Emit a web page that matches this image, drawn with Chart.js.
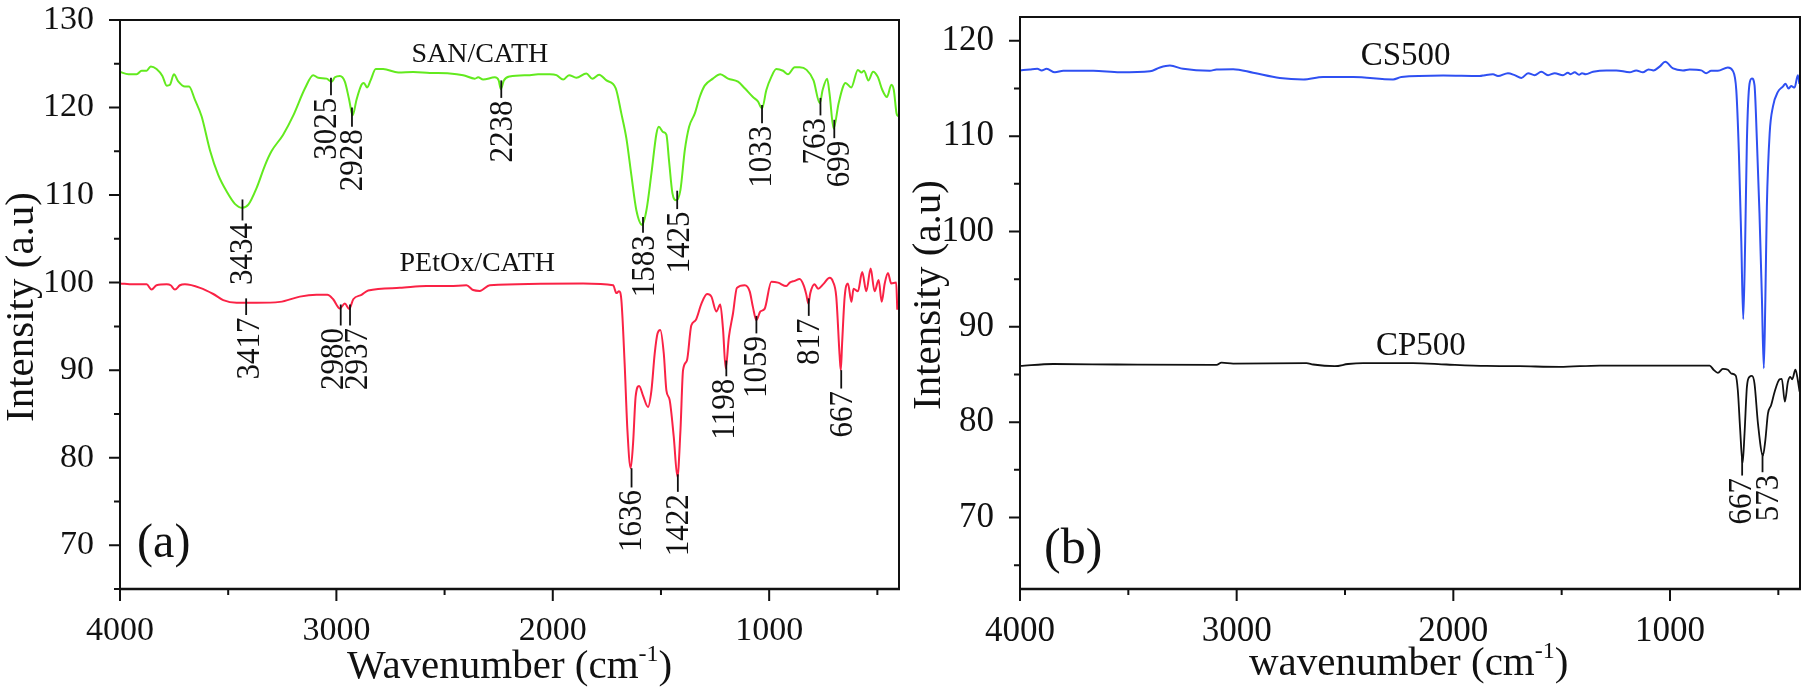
<!DOCTYPE html>
<html>
<head>
<meta charset="utf-8">
<title>FTIR spectra</title>
<script src="https://cdn.jsdelivr.net/npm/chart.js@4"></script>
<style>
    html, body { margin: 0; padding: 0; background: #fff; }
    canvas { position: absolute; left: 0; top: 0; }
</style>
</head>
<body>
<canvas id="panelA" width="1806" height="690"></canvas>
<canvas id="panelB" width="1806" height="690"></canvas>
<script>
// Panel (a)
const sanWave = [4000,3961,3923,3900,3877,3858,3831,3804,3784,3769,3751,3731,3700,3681,3654,3623,3584,3546,3507,3469,3435,3407,3369,3330,3300,3246,3199,3145,3107,3084,3045,3022,3007,2984,2961,2941,2925,2907,2884,2873,2858,2842,2818,2784,2714,2645,2568,2476,2414,2360,2345,2322,2268,2250,2240,2226,2199,2106,2068,2014,1983,1952,1925,1891,1845,1817,1786,1752,1709,1683,1660,1637,1614,1587,1567,1544,1521,1510,1490,1475,1463,1447,1429,1410,1390,1370,1344,1321,1298,1260,1226,1190,1144,1113,1075,1052,1033,1013,990,967,936,913,882,859,827,795,766,753,732,721,702,679,647,621,590,573,562,541,520,498,477,456,435,424,411,403];
const sanVal = [124.06,123.8,123.8,124.2,124.2,124.7,124.4,123.6,122.5,122.6,123.8,123,122.4,122.4,120.9,119,115.1,112.3,110.4,109,108.55,108.9,110.8,113.4,115,116.9,119.1,122.2,123.7,123.4,123.3,122.95,123.45,123.6,122.95,120.9,119.1,120.9,122.6,122.8,122.3,123.1,124.4,124.4,124,124.05,123.95,123.9,123.7,123.3,123.45,123.2,123.45,123.1,122.1,123.1,123.55,123.7,123.8,123.8,123.7,123.2,123.7,123.4,123.9,123.3,123.75,123.1,122.2,119.3,116.5,112.3,108.3,106.6,108.3,112.5,117,117.8,117.2,116.9,114,110.2,109.4,110.6,115.1,117.8,119.3,121.2,122.5,123.3,123.8,123.3,122.95,122.2,121.2,120.7,119.9,122,123.5,124.4,124.2,123.8,124.6,124.6,124.3,123.1,120.5,122,123.3,121.6,117.6,120.5,122.8,122.3,124.3,124,124.2,123.1,124.1,123.5,122,121.2,122.6,122,119.3,119];

const petWave = [4000,3938,3877,3854,3831,3784,3766,3746,3723,3700,3630,3569,3523,3461,3369,3261,3169,3092,3042,3015,2984,2961,2941,2922,2884,2853,2707,2584,2476,2399,2368,2337,2291,1860,1721,1706,1694,1683,1668,1655,1640,1629,1617,1601,1583,1560,1544,1529,1516,1503,1487,1475,1460,1441,1424,1410,1398,1380,1360,1340,1313,1287,1267,1244,1226,1213,1201,1186,1167,1149,1113,1090,1075,1059,1041,1021,990,959,921,905,882,859,841,828,819,810,790,774,751,720,705,690,674,669,663,651,636,620,610,590,570,551,531,513,494,480,466,451,436,413,408];
const petVal = [99.9,99.8,99.8,99.2,99.7,99.8,99.7,99.2,99.7,99.8,99.4,98.7,98,97.7,97.7,97.8,98.4,98.6,98.6,98.1,97.05,97.6,97,98.1,98.6,99.1,99.4,99.6,99.6,99.7,99.15,99.05,99.7,99.9,99.7,98.8,99,98,90.8,83.1,78.8,81.6,87,88.2,87.1,85.8,87.7,91.9,94.2,94.6,91.9,87.7,86.6,82.4,77.8,83.1,90,91.1,95.1,95.7,97.6,98.7,98.4,96.7,97.5,94.6,90.2,93.8,96.5,99.4,99.7,99,97.2,95.7,96.7,97,100.1,100,99.6,100,100.2,100.4,99.7,98.6,97.6,98.8,99.8,99.3,99.8,100.55,100.1,98.4,91.5,90,93,98.4,99.9,97.8,99.3,99,101.2,99,101.6,99,100.3,97.8,99.9,101.1,99.9,100,96.9];

const peakWaveA = [3434,3417,3025,2980,2937,2928,2238,1636,1583,1425,1422,1198,1059,1033,817,763,699,667];
const peakTopA = [109.5,98.2,123.4,97.5,97.5,120,123.1,78.8,107.5,110.5,78.1,91.1,96.2,120.3,98.2,121.1,118.6,90];
const peakEndA = [107.1,96.3,121.4,95.1,95.1,117.8,121.1,76.6,105.7,108.4,76.1,89.3,94.2,118.2,96.2,119.1,116.5,87.9];
const peakTextWaveA = [3446,3410,3058,3025,2915,2938,2245,1646,1585,1427,1429,1215,1067,1044,823,796,684,674];

// Panel (b)
const csWave = [4000,3954,3920,3900,3877,3839,3800,3662,3539,3400,3354,3308,3247,3124,3093,3016,2924,2801,2693,2601,2462,2278,2240,2047,1878,1855,1817,1794,1748,1717,1686,1655,1625,1594,1563,1532,1494,1471,1459,1440,1420,1406,1389,1355,1294,1248,1186,1156,1125,1099,1076,1048,1022,986,940,910,856,833,810,779,733,710,694,682,671,662,653,645,633,622,610,599,587,576,567,560,553,540,525,502,479,467,453,441,425,410,403];
const csVal = [116.9,117,117.06,116.9,117.06,116.7,116.85,116.85,116.7,116.8,117.2,117.4,117.06,116.85,117,117.03,116.65,116.1,115.95,116.2,116.2,115.95,116.2,116.36,116.3,116.4,116.5,116.3,116.6,116.4,116.1,116.6,116.4,116.75,116.4,116.6,116.4,116.65,116.5,116.7,116.45,116.6,116.5,116.75,116.9,116.9,116.7,116.9,116.7,117,116.9,117.3,117.8,117.1,116.9,117,116.9,116.6,116.85,116.85,117.2,116.85,114.8,108.2,99,90.8,99,109.6,115.5,116.05,115.35,109.6,101.9,93.15,85.65,92.8,102.6,110.3,113.1,114.65,115.2,115.5,115,115.25,115.1,116.4,115.5];

const cpWave = [4000,3846,3554,3093,3070,3016,2678,2647,2547,2486,2416,2186,2032,1847,1694,1509,1325,817,799,779,756,733,717,697,687,676,665,656,645,633,622,610,594,571,560,548,533,517,494,484,470,456,445,436,421,410,402];
const cpVal = [85.9,86.1,86.05,86,86.25,86.15,86.2,86.05,85.87,86.1,86.2,86.2,86.05,85.9,85.87,85.8,85.94,85.94,85.5,85.17,85.6,85.5,85.1,84.9,83.35,79.15,75.7,78.8,83.7,84.75,84.85,84.05,79.85,76.5,78.1,80.9,81.8,83.2,84.5,84.55,82.15,84.2,84.75,84.5,85.5,84.4,83.2];

const peakWaveB = [667,573];
const peakTopB = [76.3,76.75];
const peakEndB = [74.4,74.75];
const peakTextWaveB = [679,556];

// Axis ticks
const xTicks = [4000,3500,3000,2500,2000,1500,1000,500];
const yTicksA = [130,125,120,115,110,105,100,95,90,85,80,75,70,65];
const yTicksB = [120,115,110,105,100,95,90,85,80,75,70,65];

const SERIF = '"Liberation Serif", "Times New Roman", serif';

function toPoints(xs, ys) {
    return xs.map((x, i) => ({ x: x, y: ys[i] }));
}

function putText(ctx, text, x, y, size, align) {
    ctx.font = size + 'px ' + SERIF;
    ctx.textAlign = align || 'left';
    ctx.textBaseline = 'alphabetic';
    ctx.fillText(text, x, y);
}

// Upright text turned to read bottom to top, baseline on x
function putTurned(ctx, text, x, y, size, align, thick) {
    ctx.save();
    ctx.translate(x, y);
    ctx.rotate(-Math.PI / 2);
    ctx.scale(1, thick || 1);
    putText(ctx, text, 0, 0, size, align);
    ctx.restore();
}

// Ticks, box, peak labels and captions for one panel
function panelPlugin(cfg) {
    return {
        id: 'panelMarks',
        afterDatasetsDraw(chart) {
            const ctx = chart.ctx;
            const area = chart.chartArea;
            const sx = chart.scales.x;
            const sy = chart.scales.y;
            ctx.save();
            ctx.strokeStyle = '#111';
            ctx.fillStyle = '#111';

            // box
            ctx.lineWidth = 2;
            ctx.strokeRect(area.left, area.top, area.right - area.left, area.bottom - area.top);
            ctx.lineWidth = 2.6;
            ctx.beginPath();
            ctx.moveTo(area.left - 1, area.bottom);
            ctx.lineTo(area.right + 1, area.bottom);
            ctx.stroke();

            // major and minor ticks
            ctx.lineWidth = 2;
            ctx.beginPath();
            xTicks.forEach(v => {
                const px = sx.getPixelForValue(v);
                ctx.moveTo(px, area.bottom);
                ctx.lineTo(px, area.bottom + (v % 1000 === 0 ? 12 : 6));
            });
            cfg.yTicks.forEach(v => {
                const py = sy.getPixelForValue(v);
                ctx.moveTo(area.left, py);
                ctx.lineTo(area.left - (v % 10 === 0 ? 11 : 6), py);
            });
            ctx.stroke();

            // peak leaders with their wavenumbers
            cfg.peakWave.forEach((w, i) => {
                const px = sx.getPixelForValue(w);
                const end = sy.getPixelForValue(cfg.peakEnd[i]);
                ctx.lineWidth = 1.8;
                ctx.beginPath();
                ctx.moveTo(px, sy.getPixelForValue(cfg.peakTop[i]));
                ctx.lineTo(px, end);
                ctx.stroke();
                const textX = sx.getPixelForValue(cfg.peakTextWave[i]) + 11.8;
                putTurned(ctx, String(w), textX, end + 2.5, 31, 'right', 1.12);
            });

            // captions sit in data space
            cfg.captions.forEach(c => {
                putText(ctx, c.text, sx.getPixelForValue(c.wave), sy.getPixelForValue(c.value), c.size, c.align);
            });

            // axis titles
            putTurned(ctx, 'Intensity (a.u)', cfg.yTitleX, cfg.yTitleY, 41, 'center');
            let tx = cfg.xTitleX;
            putText(ctx, cfg.xTitle, tx, cfg.xTitleY, 41);
            tx += ctx.measureText(cfg.xTitle).width;
            putText(ctx, '-1', tx, cfg.xTitleY - 17, 24);
            tx += ctx.measureText('-1').width;
            putText(ctx, ')', tx, cfg.xTitleY, 41);
            ctx.restore();
        }
    };
}

function makePanel(id, cfg) {
    return new Chart(document.getElementById(id), {
        type: 'line',
        data: {
            datasets: cfg.series.map(s => ({
                label: s.label,
                data: toPoints(s.wave, s.value),
                borderColor: s.color,
                borderWidth: s.width,
                pointRadius: 0,
                cubicInterpolationMode: 'monotone'
            }))
        },
        options: {
            responsive: false,
            animation: false,
            devicePixelRatio: 1,
            layout: { padding: cfg.padding },
            plugins: { legend: { display: false }, tooltip: { enabled: false } },
            scales: {
                x: {
                    type: 'linear',
                    reverse: true,
                    min: 400,
                    max: 4000,
                    afterBuildTicks: s => { s.ticks = xTicks.map(v => ({ value: v })); },
                    afterFit: s => {
                        s.height = 101;
                        s.paddingLeft = s.paddingRight = s.paddingTop = s.paddingBottom = 0;
                    },
                    border: { display: false },
                    grid: { display: false },
                    ticks: {
                        autoSkip: false,
                        maxRotation: 0,
                        minRotation: 0,
                        padding: 14,
                        color: '#111',
                        font: { family: SERIF, size: cfg.tickSize },
                        callback: v => (v % 1000 === 0 ? String(v) : '')
                    }
                },
                y: {
                    min: cfg.yMin,
                    max: cfg.yMax,
                    afterBuildTicks: s => { s.ticks = cfg.yTicks.map(v => ({ value: v })); },
                    afterFit: s => {
                        s.width = cfg.yAxisWidth;
                        s.paddingLeft = s.paddingRight = s.paddingTop = s.paddingBottom = 0;
                    },
                    border: { display: false },
                    grid: { display: false },
                    ticks: {
                        autoSkip: false,
                        padding: 18,
                        color: '#111',
                        font: { family: SERIF, size: cfg.tickSize },
                        callback: v => (v % 10 === 0 ? String(v) : '')
                    }
                }
            }
        },
        plugins: [panelPlugin(cfg)]
    });
}

makePanel('panelA', {
    padding: { left: 0, top: 20, right: 907, bottom: 0 },
    yAxisWidth: 120,
    yMin: 65,
    yMax: 130,
    yTicks: yTicksA,
    tickSize: 34,
    series: [
        { label: 'SAN/CATH', wave: sanWave, value: sanVal, color: '#62ea1e', width: 2 },
        { label: 'PEtOx/CATH', wave: petWave, value: petVal, color: '#fa2245', width: 2 }
    ],
    peakWave: peakWaveA,
    peakTop: peakTopA,
    peakEnd: peakEndA,
    peakTextWave: peakTextWaveA,
    captions: [
        { text: 'SAN/CATH', wave: 2337, value: 125.2, size: 28, align: 'center' },
        { text: 'PEtOx/CATH', wave: 2349, value: 101.3, size: 28, align: 'center' },
        { text: '(a)', wave: 3921, value: 68.6, size: 48, align: 'left' }
    ],
    yTitleX: 33,
    yTitleY: 307,
    xTitle: 'Wavenumber (cm',
    xTitleX: 347,
    xTitleY: 678
});

makePanel('panelB', {
    padding: { left: 905, top: 17, right: 6, bottom: 0 },
    yAxisWidth: 115,
    yMin: 62.5,
    yMax: 122.5,
    yTicks: yTicksB,
    tickSize: 35,
    series: [
        { label: 'CS500', wave: csWave, value: csVal, color: '#2f50f2', width: 2 },
        { label: 'CP500', wave: cpWave, value: cpVal, color: '#111', width: 1.8 }
    ],
    peakWave: peakWaveB,
    peakTop: peakTopB,
    peakEnd: peakEndB,
    peakTextWave: peakTextWaveB,
    captions: [
        { text: 'CS500', wave: 2220, value: 117.45, size: 33, align: 'center' },
        { text: 'CP500', wave: 2150, value: 87, size: 33, align: 'center' },
        { text: '(b)', wave: 3889, value: 65.2, size: 50, align: 'left' }
    ],
    yTitleX: 940,
    yTitleY: 295,
    xTitle: 'wavenumber (cm',
    xTitleX: 1249,
    xTitleY: 675
});
</script>
</body>
</html>
